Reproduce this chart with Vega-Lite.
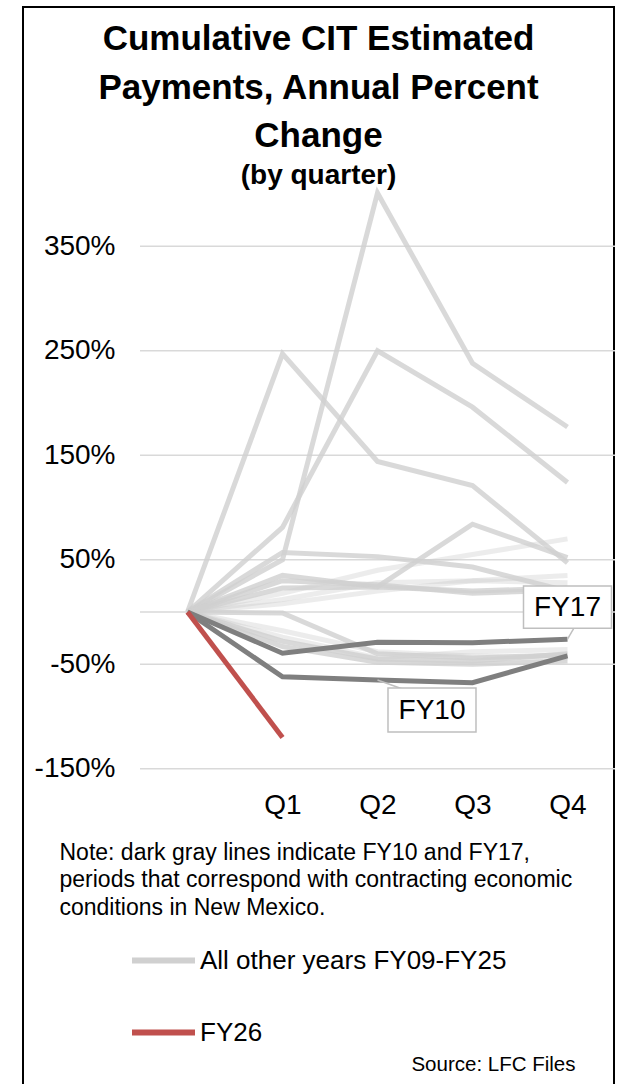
{
  "$schema": "https://vega.github.io/schema/vega-lite/v6.json",
  "width": 591,
  "height": 1090,
  "autosize": "none",
  "padding": {"left": 23, "top": 7, "right": 3, "bottom": 0},
  "background": "white",
  "config": {
    "font": "Liberation Sans",
    "view": {"stroke": "black", "strokeWidth": 2, "fill": "white"}
  },
  "title": {
    "text": ["Cumulative CIT Estimated", "Payments, Annual Percent", "Change"],
    "subtitle": "(by quarter)",
    "font": "Liberation Sans",
    "subtitleFont": "Liberation Sans",
    "fontSize": 35,
    "fontWeight": "bold",
    "lineHeight": 48.5,
    "color": "black",
    "subtitleFontSize": 28,
    "subtitleFontWeight": "bold",
    "subtitleColor": "black",
    "subtitlePadding": 8,
    "anchor": "middle",
    "offset": -183
  },
  "datasets": {
    "series": [
      {"year": "FY09", "group": "All other years FY09-FY25", "style": "main", "q": 0, "v": 0},
      {"year": "FY09", "group": "All other years FY09-FY25", "style": "main", "q": 1, "v": 50},
      {"year": "FY09", "group": "All other years FY09-FY25", "style": "main", "q": 2, "v": 401},
      {"year": "FY09", "group": "All other years FY09-FY25", "style": "main", "q": 3, "v": 238},
      {"year": "FY09", "group": "All other years FY09-FY25", "style": "main", "q": 4, "v": 177},
      {"year": "FY11", "group": "All other years FY09-FY25", "style": "main", "q": 0, "v": 0},
      {"year": "FY11", "group": "All other years FY09-FY25", "style": "main", "q": 1, "v": 247},
      {"year": "FY11", "group": "All other years FY09-FY25", "style": "main", "q": 2, "v": 144},
      {"year": "FY11", "group": "All other years FY09-FY25", "style": "main", "q": 3, "v": 121},
      {"year": "FY11", "group": "All other years FY09-FY25", "style": "main", "q": 4, "v": 47},
      {"year": "FY12", "group": "All other years FY09-FY25", "style": "main", "q": 0, "v": 0},
      {"year": "FY12", "group": "All other years FY09-FY25", "style": "main", "q": 1, "v": 81},
      {"year": "FY12", "group": "All other years FY09-FY25", "style": "main", "q": 2, "v": 250},
      {"year": "FY12", "group": "All other years FY09-FY25", "style": "main", "q": 3, "v": 196},
      {"year": "FY12", "group": "All other years FY09-FY25", "style": "main", "q": 4, "v": 124},
      {"year": "FY13", "group": "All other years FY09-FY25", "style": "main", "q": 0, "v": 0},
      {"year": "FY13", "group": "All other years FY09-FY25", "style": "main", "q": 1, "v": 35},
      {"year": "FY13", "group": "All other years FY09-FY25", "style": "main", "q": 2, "v": 24},
      {"year": "FY13", "group": "All other years FY09-FY25", "style": "main", "q": 3, "v": 84},
      {"year": "FY13", "group": "All other years FY09-FY25", "style": "main", "q": 4, "v": 52},
      {"year": "FY14", "group": "All other years FY09-FY25", "style": "main", "q": 0, "v": 0},
      {"year": "FY14", "group": "All other years FY09-FY25", "style": "main", "q": 1, "v": 57},
      {"year": "FY14", "group": "All other years FY09-FY25", "style": "main", "q": 2, "v": 53},
      {"year": "FY14", "group": "All other years FY09-FY25", "style": "main", "q": 3, "v": 43},
      {"year": "FY14", "group": "All other years FY09-FY25", "style": "main", "q": 4, "v": 20},
      {"year": "FY15", "group": "All other years FY09-FY25", "style": "main", "q": 0, "v": 0},
      {"year": "FY15", "group": "All other years FY09-FY25", "style": "main", "q": 1, "v": 23},
      {"year": "FY15", "group": "All other years FY09-FY25", "style": "main", "q": 2, "v": 24},
      {"year": "FY15", "group": "All other years FY09-FY25", "style": "main", "q": 3, "v": 20},
      {"year": "FY15", "group": "All other years FY09-FY25", "style": "main", "q": 4, "v": 23},
      {"year": "FY16", "group": "All other years FY09-FY25", "style": "main", "q": 0, "v": 0},
      {"year": "FY16", "group": "All other years FY09-FY25", "style": "main", "q": 1, "v": 30},
      {"year": "FY16", "group": "All other years FY09-FY25", "style": "main", "q": 2, "v": 26},
      {"year": "FY16", "group": "All other years FY09-FY25", "style": "main", "q": 3, "v": 18},
      {"year": "FY16", "group": "All other years FY09-FY25", "style": "main", "q": 4, "v": 21},
      {"year": "FY18", "group": "All other years FY09-FY25", "style": "main", "q": 0, "v": 0},
      {"year": "FY18", "group": "All other years FY09-FY25", "style": "main", "q": 1, "v": -1},
      {"year": "FY18", "group": "All other years FY09-FY25", "style": "main", "q": 2, "v": -40},
      {"year": "FY18", "group": "All other years FY09-FY25", "style": "main", "q": 3, "v": -44},
      {"year": "FY18", "group": "All other years FY09-FY25", "style": "main", "q": 4, "v": -41},
      {"year": "FY19", "group": "All other years FY09-FY25", "style": "main", "q": 0, "v": 0},
      {"year": "FY19", "group": "All other years FY09-FY25", "style": "main", "q": 1, "v": -28},
      {"year": "FY19", "group": "All other years FY09-FY25", "style": "main", "q": 2, "v": -45},
      {"year": "FY19", "group": "All other years FY09-FY25", "style": "main", "q": 3, "v": -47},
      {"year": "FY19", "group": "All other years FY09-FY25", "style": "main", "q": 4, "v": -40},
      {"year": "FY20", "group": "All other years FY09-FY25", "style": "main", "q": 0, "v": 0},
      {"year": "FY20", "group": "All other years FY09-FY25", "style": "main", "q": 1, "v": -33},
      {"year": "FY20", "group": "All other years FY09-FY25", "style": "main", "q": 2, "v": -48},
      {"year": "FY20", "group": "All other years FY09-FY25", "style": "main", "q": 3, "v": -50},
      {"year": "FY20", "group": "All other years FY09-FY25", "style": "main", "q": 4, "v": -47},
      {"year": "FY21", "group": "All other years FY09-FY25", "style": "faint", "q": 0, "v": 0},
      {"year": "FY21", "group": "All other years FY09-FY25", "style": "faint", "q": 1, "v": 18},
      {"year": "FY21", "group": "All other years FY09-FY25", "style": "faint", "q": 2, "v": 40},
      {"year": "FY21", "group": "All other years FY09-FY25", "style": "faint", "q": 3, "v": 55},
      {"year": "FY21", "group": "All other years FY09-FY25", "style": "faint", "q": 4, "v": 70},
      {"year": "FY22", "group": "All other years FY09-FY25", "style": "faint", "q": 0, "v": 0},
      {"year": "FY22", "group": "All other years FY09-FY25", "style": "faint", "q": 1, "v": 12},
      {"year": "FY22", "group": "All other years FY09-FY25", "style": "faint", "q": 2, "v": 28},
      {"year": "FY22", "group": "All other years FY09-FY25", "style": "faint", "q": 3, "v": 30},
      {"year": "FY22", "group": "All other years FY09-FY25", "style": "faint", "q": 4, "v": 35},
      {"year": "FY23", "group": "All other years FY09-FY25", "style": "faint", "q": 0, "v": 0},
      {"year": "FY23", "group": "All other years FY09-FY25", "style": "faint", "q": 1, "v": -18},
      {"year": "FY23", "group": "All other years FY09-FY25", "style": "faint", "q": 2, "v": -38},
      {"year": "FY23", "group": "All other years FY09-FY25", "style": "faint", "q": 3, "v": -42},
      {"year": "FY23", "group": "All other years FY09-FY25", "style": "faint", "q": 4, "v": -44},
      {"year": "FY24", "group": "All other years FY09-FY25", "style": "faint", "q": 0, "v": 0},
      {"year": "FY24", "group": "All other years FY09-FY25", "style": "faint", "q": 1, "v": -24},
      {"year": "FY24", "group": "All other years FY09-FY25", "style": "faint", "q": 2, "v": -44},
      {"year": "FY24", "group": "All other years FY09-FY25", "style": "faint", "q": 3, "v": -38},
      {"year": "FY24", "group": "All other years FY09-FY25", "style": "faint", "q": 4, "v": -36},
      {"year": "FY25", "group": "All other years FY09-FY25", "style": "faint", "q": 0, "v": 0},
      {"year": "FY25", "group": "All other years FY09-FY25", "style": "faint", "q": 1, "v": 8},
      {"year": "FY25", "group": "All other years FY09-FY25", "style": "faint", "q": 2, "v": 20},
      {"year": "FY25", "group": "All other years FY09-FY25", "style": "faint", "q": 3, "v": 30},
      {"year": "FY25", "group": "All other years FY09-FY25", "style": "faint", "q": 4, "v": 28},
      {"year": "FY10", "group": "FY10 and FY17", "style": "dark", "q": 0, "v": 0},
      {"year": "FY10", "group": "FY10 and FY17", "style": "dark", "q": 1, "v": -62},
      {"year": "FY10", "group": "FY10 and FY17", "style": "dark", "q": 2, "v": -65},
      {"year": "FY10", "group": "FY10 and FY17", "style": "dark", "q": 3, "v": -67.6},
      {"year": "FY10", "group": "FY10 and FY17", "style": "dark", "q": 4, "v": -42},
      {"year": "FY17", "group": "FY10 and FY17", "style": "dark", "q": 0, "v": 0},
      {"year": "FY17", "group": "FY10 and FY17", "style": "dark", "q": 1, "v": -39.5},
      {"year": "FY17", "group": "FY10 and FY17", "style": "dark", "q": 2, "v": -29},
      {"year": "FY17", "group": "FY10 and FY17", "style": "dark", "q": 3, "v": -29.4},
      {"year": "FY17", "group": "FY10 and FY17", "style": "dark", "q": 4, "v": -26},
      {"year": "FY26", "group": "FY26", "style": "current", "q": 0, "v": 0},
      {"year": "FY26", "group": "FY26", "style": "current", "q": 1, "v": -120}
    ],
    "grid": [
      {"v": -150}, {"v": -50}, {"v": 0}, {"v": 50}, {"v": 150}, {"v": 250}, {"v": 350}
    ],
    "callouts": [
      {"label": "FY17", "q": 4, "v": -26},
      {"label": "FY10", "q": 2, "v": -65}
    ]
  },
  "layer": [
    {
      "data": {"name": "grid"},
      "mark": {"type": "rule", "color": "#d9d9d9", "strokeWidth": 1.5},
      "encoding": {
        "x": {"datum": -0.5, "type": "quantitative", "scale": {"domain": [-1.7316, 4.4895], "nice": false, "zero": false}},
        "x2": {"datum": 4.5},
        "y": {"field": "v", "type": "quantitative", "scale": {"domain": [-464.11, 578.95], "nice": false, "zero": false}}
      }
    },
    {
      "data": {"name": "series"},
      "transform": [{"filter": "datum.style == 'faint'"}],
      "mark": {"type": "line", "strokeWidth": 5, "color": "#c8c8c8", "opacity": 0.35},
      "encoding": {
        "x": {"field": "q", "type": "quantitative"},
        "y": {"field": "v", "type": "quantitative"},
        "detail": {"field": "year"},
        "order": {"field": "q"}
      }
    },
    {
      "data": {"name": "series"},
      "transform": [{"filter": "datum.style == 'main'"}],
      "mark": {"type": "line", "strokeWidth": 5, "opacity": 0.8},
      "encoding": {
        "x": {
          "field": "q", "type": "quantitative",
          "axis": {
            "orient": "bottom", "offset": -328, "values": [1, 2, 3, 4],
            "labelExpr": "'Q' + datum.value",
            "domain": false, "ticks": false, "tickSize": 0, "grid": false,
            "labelFontSize": 28, "labelPadding": 22, "labelColor": "black", "labelFont": "Liberation Sans",
            "title": ["Note: dark gray lines indicate FY10 and FY17,", "periods that correspond with contracting economic", "conditions in New Mexico."],
            "titleFont": "Liberation Sans", "titleFontSize": 23, "titleFontWeight": "normal", "titleColor": "black",
            "titleAlign": "left", "titleAnchor": "start", "titleBaseline": "alphabetic",
            "titleLineHeight": 27.5, "titleX": 36, "titleY": 90
          }
        },
        "y": {
          "field": "v", "type": "quantitative",
          "axis": {
            "orient": "left", "offset": -92, "values": [-150, -50, 50, 150, 250, 350],
            "labelExpr": "datum.value + '%'",
            "domain": false, "ticks": false, "tickSize": 0, "grid": false,
            "labelFontSize": 28, "labelPadding": 0, "labelColor": "black", "labelFont": "Liberation Sans",
            "title": "Source: LFC Files",
            "titleFont": "Liberation Sans", "titleFontSize": 20.5, "titleFontWeight": "normal", "titleColor": "black",
            "titleAngle": 0, "titleAlign": "right", "titleBaseline": "alphabetic",
            "titleX": 460, "titleY": 1063
          }
        },
        "detail": {"field": "year"},
        "order": {"field": "q"},
        "color": {
          "field": "group", "type": "nominal",
          "scale": {"domain": ["All other years FY09-FY25", "FY26", "FY10 and FY17"], "range": ["#d0d0d0", "#c0504d", "#7f7f7f"]},
          "legend": {
            "orient": "none", "legendX": 106, "legendY": 919, "direction": "vertical",
            "values": ["All other years FY09-FY25", "FY26"],
            "title": null, "padding": 0,
            "symbolType": "stroke", "symbolSize": 3969, "symbolStrokeWidth": 6, "symbolOpacity": 1,
            "labelFont": "Liberation Sans", "labelFontSize": 26, "labelColor": "black", "labelOffset": 2,
            "rowPadding": 24, "labelLimit": 500
          }
        }
      }
    },
    {
      "data": {"name": "series"},
      "transform": [{"filter": "datum.style == 'dark'"}],
      "mark": {"type": "line", "strokeWidth": 5},
      "encoding": {
        "x": {"field": "q", "type": "quantitative"},
        "y": {"field": "v", "type": "quantitative"},
        "detail": {"field": "year"},
        "order": {"field": "q"},
        "color": {"field": "group", "type": "nominal"}
      }
    },
    {
      "data": {"name": "series"},
      "transform": [{"filter": "datum.style == 'current'"}],
      "mark": {"type": "line", "strokeWidth": 5},
      "encoding": {
        "x": {"field": "q", "type": "quantitative"},
        "y": {"field": "v", "type": "quantitative"},
        "detail": {"field": "year"},
        "order": {"field": "q"},
        "color": {"field": "group", "type": "nominal"}
      }
    },
    {
      "data": {"name": "callouts"},
      "transform": [{"filter": "datum.label == 'FY17'"}],
      "layer": [
        {
          "mark": {"type": "rule", "color": "#bfbfbf", "strokeWidth": 1.5, "x2Offset": 7, "y2Offset": -12},
          "encoding": {
            "x": {"field": "q", "type": "quantitative"},
            "x2": {"field": "q"},
            "y": {"field": "v", "type": "quantitative"},
            "y2": {"field": "v"}
          }
        },
        {
          "mark": {"type": "point", "shape": "M-1,-0.48L1,-0.48L1,0.48L-1,0.48Z", "size": 7744, "filled": true, "fill": "white", "stroke": "#bfbfbf", "strokeWidth": 1.5, "opacity": 1, "yOffset": -32},
          "encoding": {
            "x": {"field": "q", "type": "quantitative"},
            "y": {"field": "v", "type": "quantitative"}
          }
        },
        {
          "mark": {"type": "text", "fontSize": 28, "font": "Liberation Sans", "color": "black", "align": "center", "baseline": "middle", "yOffset": -31},
          "encoding": {
            "x": {"field": "q", "type": "quantitative"},
            "y": {"field": "v", "type": "quantitative"},
            "text": {"field": "label"}
          }
        }
      ]
    },
    {
      "data": {"name": "callouts"},
      "transform": [{"filter": "datum.label == 'FY10'"}],
      "layer": [
        {
          "mark": {"type": "rule", "color": "#bfbfbf", "strokeWidth": 1.5, "x2Offset": 25, "y2Offset": 9},
          "encoding": {
            "x": {"field": "q", "type": "quantitative"},
            "x2": {"field": "q"},
            "y": {"field": "v", "type": "quantitative"},
            "y2": {"field": "v"}
          }
        },
        {
          "mark": {"type": "point", "shape": "M-1,-0.5L1,-0.5L1,0.5L-1,0.5Z", "size": 7744, "filled": true, "fill": "white", "stroke": "#bfbfbf", "strokeWidth": 1.5, "opacity": 1, "xOffset": 54.5, "yOffset": 30},
          "encoding": {
            "x": {"field": "q", "type": "quantitative"},
            "y": {"field": "v", "type": "quantitative"}
          }
        },
        {
          "mark": {"type": "text", "fontSize": 28, "font": "Liberation Sans", "color": "black", "align": "center", "baseline": "middle", "xOffset": 54.5, "yOffset": 31},
          "encoding": {
            "x": {"field": "q", "type": "quantitative"},
            "y": {"field": "v", "type": "quantitative"},
            "text": {"field": "label"}
          }
        }
      ]
    }
  ]
}
